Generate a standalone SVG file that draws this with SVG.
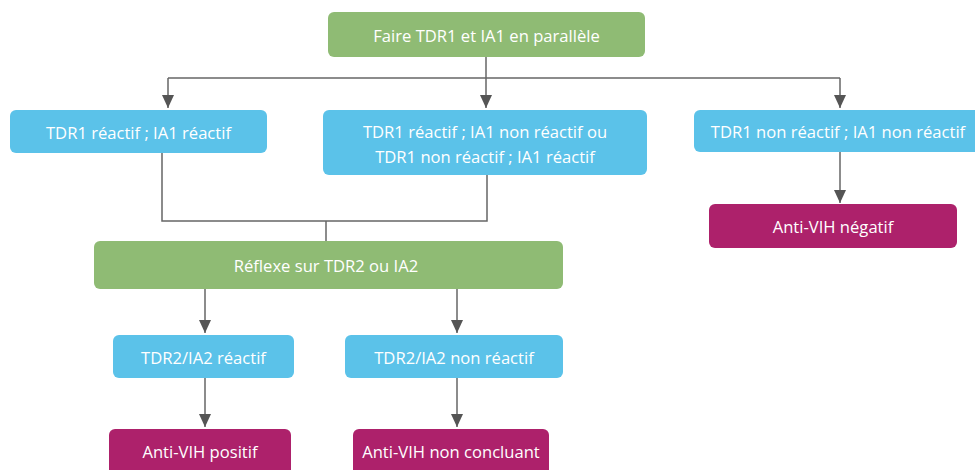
<svg xmlns="http://www.w3.org/2000/svg" width="975" height="470" viewBox="0 0 975 470">
<style>
.green{fill:#8fbb74}
.blue{fill:#5bc2e9}
.mag{fill:#ad216b}
.t{font-family:"Open Sans","Liberation Sans",sans-serif;font-size:16.6px;fill:#ffffff;text-anchor:middle;dominant-baseline:central}
.ln{stroke:#666666;stroke-width:1.5;fill:none}
.ar{stroke:#666666;stroke-width:1.5;fill:none;marker-end:url(#ah)}
</style>
<defs>
<marker id="ah" viewBox="0 0 13 12" refX="13" refY="6" markerWidth="13" markerHeight="12" markerUnits="userSpaceOnUse" orient="auto">
<path d="M0,0 L13,6 L0,12 Z" fill="#555555"/>
</marker>
</defs>
<rect width="975" height="470" fill="#ffffff"/>
<g id="connectors">
<line class="ln" x1="486" y1="57" x2="486" y2="78"/>
<line class="ln" x1="168" y1="78" x2="840" y2="78"/>
<path class="ar" d="M168,78 V108"/>
<path class="ar" d="M486,78 V108"/>
<path class="ar" d="M840,78 V108"/>
<path class="ar" d="M840,152 V203"/>
<path class="ln" d="M162,153 V221 H487 V175"/>
<line class="ln" x1="326" y1="221" x2="326" y2="241"/>
<path class="ar" d="M205,289 V333"/>
<path class="ar" d="M457,289 V333"/>
<path class="ar" d="M205,378 V427"/>
<path class="ar" d="M457,378 V427"/>
</g>
<g id="n1"><rect class="green" x="328" y="12" width="317" height="45" rx="6"/><text class="t" x="486.5" y="35">Faire TDR1 et IA1 en parallèle</text></g>
<g id="n2"><rect class="blue" x="10" y="110" width="257" height="43" rx="6"/><text class="t" x="138.5" y="132">TDR1 réactif ; IA1 réactif</text></g>
<g id="n3"><rect class="blue" x="323" y="110" width="324" height="65" rx="6"/><text class="t" x="485" y="131">TDR1 réactif ; IA1 non réactif ou</text><text class="t" x="485" y="156">TDR1 non réactif ; IA1 réactif</text></g>
<g id="n4"><rect class="blue" x="694" y="110" width="290" height="42" rx="6"/><text class="t" x="838" y="131">TDR1 non réactif ; IA1 non réactif</text></g>
<g id="n5"><rect class="mag" x="709" y="204" width="248" height="44" rx="6"/><text class="t" x="833" y="226">Anti-VIH négatif</text></g>
<g id="n6"><rect class="green" x="94" y="241" width="469" height="48" rx="6"/><text class="t" x="326" y="265">Réflexe sur TDR2 ou IA2</text></g>
<g id="n7"><rect class="blue" x="113" y="335" width="181" height="43" rx="6"/><text class="t" x="203.5" y="357">TDR2/IA2 réactif</text></g>
<g id="n8"><rect class="blue" x="345" y="335" width="218" height="43" rx="6"/><text class="t" x="454" y="357">TDR2/IA2 non réactif</text></g>
<g id="n9"><rect class="mag" x="109" y="429" width="182" height="50" rx="6"/><text class="t" x="200" y="451">Anti-VIH positif</text></g>
<g id="n10"><rect class="mag" x="353" y="429" width="196" height="50" rx="6"/><text class="t" x="451" y="451">Anti-VIH non concluant</text></g>
</svg>
